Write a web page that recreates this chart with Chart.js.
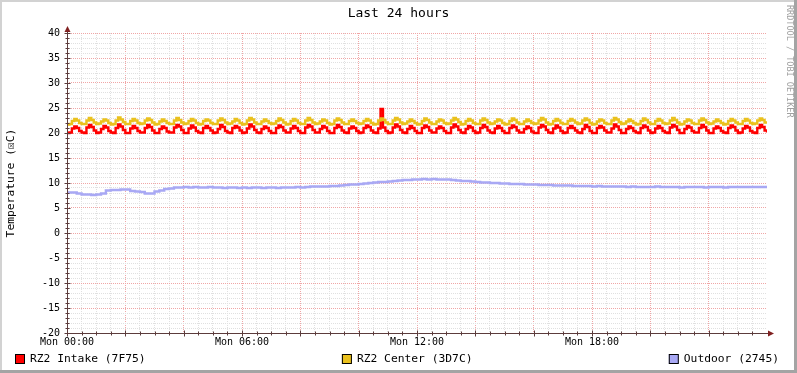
<!DOCTYPE html>
<html>
<head>
<meta charset="utf-8">
<title>Last 24 hours</title>
<script src="https://cdn.jsdelivr.net/npm/chart.js@4.4.1/dist/chart.umd.min.js"></script>
<style>
  html, body { margin: 0; padding: 0; background: #fff; }
  #wrap { width: 797px; height: 373px; }
</style>
</head>
<body>
<div id="wrap"><canvas id="rrdChart" width="797" height="373"></canvas></div>
<script>
// room sensors sampled every 5 minutes, outdoor every 10 minutes, Mon 00:00 .. Tue 00:00
const ROOM_STEP_HOURS = 5 / 60;
const OUTDOOR_STEP_HOURS = 10 / 60;

const intake = [
  20.0, 20.1, 20.9, 21.3, 21.0, 20.4,  20.1, 20.0, 21.1, 21.6, 21.2, 20.5,
  20.0, 20.1, 20.8, 21.4, 21.1, 20.4,  20.1, 20.0, 21.0, 21.7, 21.3, 20.6,
  20.0, 20.0, 20.9, 21.4, 21.0, 20.4,  20.1, 20.1, 21.0, 21.6, 21.2, 20.5,
  20.0, 20.0, 20.8, 21.3, 21.0, 20.3,  20.1, 20.1, 21.1, 21.6, 21.3, 20.6,
  20.0, 20.0, 20.9, 21.5, 21.1, 20.4,  20.1, 20.0, 21.0, 21.4, 21.0, 20.5,
  20.0, 20.1, 20.8, 21.6, 21.2, 20.4,  20.1, 20.0, 21.0, 21.4, 21.1, 20.5,
  20.0, 20.1, 20.9, 21.7, 21.3, 20.6,  20.1, 20.0, 20.8, 21.3, 21.0, 20.4,
  20.0, 20.0, 21.0, 21.5, 21.2, 20.5,  20.1, 20.1, 20.9, 21.4, 21.0, 20.4,
  20.0, 20.0, 21.1, 21.6, 21.3, 20.6,  20.1, 20.1, 20.8, 21.4, 21.1, 20.4,
  20.0, 20.0, 21.0, 21.6, 21.2, 20.5,  20.1, 20.0, 20.9, 21.3, 21.0, 20.4,
  20.0, 20.1, 21.0, 21.5, 21.2, 20.5,  20.1, 20.0, 20.9, 24.8, 21.1, 20.4,
  20.0, 20.1, 21.1, 21.7, 21.3, 20.6,  20.1, 20.0, 20.8, 21.4, 21.0, 20.4,
  20.0, 20.0, 21.0, 21.5, 21.2, 20.5,  20.1, 20.1, 20.9, 21.3, 21.0, 20.4,
  20.0, 20.0, 21.1, 21.7, 21.3, 20.6,  20.1, 20.0, 20.8, 21.4, 21.1, 20.4,
  20.0, 20.1, 21.0, 21.6, 21.2, 20.5,  20.1, 20.0, 20.9, 21.4, 21.0, 20.4,
  20.0, 20.0, 21.0, 21.5, 21.2, 20.5,  20.1, 20.1, 20.8, 21.3, 21.0, 20.3,
  20.0, 20.0, 21.1, 21.6, 21.3, 20.6,  20.1, 20.0, 20.9, 21.5, 21.1, 20.4,
  20.0, 20.1, 21.0, 21.4, 21.0, 20.5,  20.1, 20.0, 20.8, 21.6, 21.2, 20.4,
  20.0, 20.0, 21.0, 21.4, 21.1, 20.5,  20.1, 20.1, 20.9, 21.7, 21.3, 20.6,
  20.0, 20.0, 20.8, 21.3, 21.0, 20.4,  20.1, 20.0, 21.0, 21.5, 21.2, 20.5,
  20.0, 20.1, 20.9, 21.4, 21.0, 20.4,  20.1, 20.0, 21.1, 21.6, 21.3, 20.6,
  20.0, 20.0, 20.8, 21.4, 21.1, 20.4,  20.1, 20.1, 21.0, 21.6, 21.2, 20.5,
  20.0, 20.0, 20.9, 21.3, 21.0, 20.4,  20.1, 20.0, 21.0, 21.5, 21.2, 20.5,
  20.0, 20.1, 20.9, 21.4, 21.1, 20.4,  20.1, 20.0, 21.0, 21.6, 21.2, 20.5,
  20.1
];

const center = [
  21.7, 21.8, 22.4, 22.8, 22.5, 22.0,  21.8, 21.8, 22.5, 23.0, 22.6, 22.1,
  21.8, 21.9, 22.3, 22.7, 22.5, 22.0,  21.7, 21.8, 22.5, 23.1, 22.7, 22.2,
  21.8, 21.8, 22.4, 22.8, 22.5, 22.0,  21.8, 21.9, 22.5, 22.9, 22.6, 22.1,
  21.7, 21.8, 22.3, 22.7, 22.4, 22.0,  21.8, 21.8, 22.5, 23.0, 22.6, 22.1,
  21.8, 21.9, 22.4, 22.8, 22.5, 22.0,  21.7, 21.8, 22.4, 22.7, 22.5, 22.0,
  21.8, 21.8, 22.5, 22.9, 22.6, 22.1,  21.8, 21.9, 22.3, 22.8, 22.5, 22.0,
  21.7, 21.8, 22.5, 23.0, 22.7, 22.1,  21.8, 21.8, 22.3, 22.7, 22.4, 22.0,
  21.8, 21.9, 22.4, 22.9, 22.6, 22.1,  21.7, 21.8, 22.4, 22.8, 22.5, 22.0,
  21.8, 21.8, 22.5, 23.0, 22.6, 22.1,  21.8, 21.9, 22.3, 22.7, 22.5, 22.0,
  21.7, 21.8, 22.5, 22.9, 22.6, 22.1,  21.8, 21.8, 22.4, 22.7, 22.4, 22.0,
  21.8, 21.9, 22.4, 22.8, 22.5, 22.0,  21.7, 21.8, 22.5, 22.9, 22.6, 22.1,
  21.8, 21.8, 22.5, 23.0, 22.7, 22.1,  21.8, 21.9, 22.3, 22.7, 22.4, 22.0,
  21.7, 21.8, 22.4, 22.9, 22.6, 22.1,  21.8, 21.8, 22.3, 22.7, 22.5, 22.0,
  21.8, 21.9, 22.5, 23.0, 22.7, 22.2,  21.7, 21.8, 22.4, 22.8, 22.5, 22.0,
  21.8, 21.8, 22.5, 22.9, 22.6, 22.1,  21.8, 21.9, 22.3, 22.7, 22.5, 22.0,
  21.7, 21.8, 22.4, 22.9, 22.6, 22.1,  21.8, 21.8, 22.3, 22.7, 22.4, 22.0,
  21.8, 21.9, 22.5, 23.0, 22.7, 22.1,  21.7, 21.8, 22.4, 22.8, 22.5, 22.0,
  21.8, 21.8, 22.4, 22.8, 22.5, 22.1,  21.8, 21.9, 22.5, 22.9, 22.6, 22.0,
  21.7, 21.8, 22.3, 22.7, 22.5, 22.0,  21.8, 21.8, 22.5, 23.0, 22.7, 22.2,
  21.8, 21.9, 22.3, 22.7, 22.4, 22.0,  21.7, 21.8, 22.4, 22.9, 22.6, 22.1,
  21.8, 21.8, 22.4, 22.8, 22.5, 22.0,  21.8, 21.9, 22.5, 23.0, 22.6, 22.1,
  21.7, 21.8, 22.3, 22.7, 22.5, 22.0,  21.8, 21.8, 22.5, 22.9, 22.6, 22.1,
  21.8, 21.9, 22.3, 22.7, 22.4, 22.0,  21.7, 21.8, 22.4, 22.8, 22.5, 22.1,
  21.8, 21.8, 22.4, 22.8, 22.5, 22.0,  21.8, 21.9, 22.5, 22.9, 22.6, 22.1,
  21.9
];

const outdoor = [
  8.1, 8.1, 7.9, 7.7, 7.7, 7.6, 7.7, 7.9, 8.5, 8.6, 8.6, 8.7,
  8.7, 8.4, 8.3, 8.2, 7.9, 7.9, 8.3, 8.5, 8.8, 8.9, 9.1, 9.1,
  9.2, 9.1, 9.2, 9.1, 9.1, 9.2, 9.1, 9.1, 9.0, 9.1, 9.1, 9.0,
  9.1, 9.0, 9.1, 9.1, 9.0, 9.1, 9.1, 9.0, 9.1, 9.1, 9.1, 9.2,
  9.1, 9.2, 9.3, 9.3, 9.3, 9.3, 9.4, 9.4, 9.5, 9.6, 9.7, 9.7,
  9.8, 9.9, 10.0, 10.1, 10.2, 10.2, 10.3, 10.4, 10.5, 10.6, 10.6, 10.7,
  10.7, 10.8, 10.7, 10.8, 10.7, 10.7, 10.7, 10.6, 10.5, 10.4, 10.4, 10.3,
  10.2, 10.1, 10.1, 10.0, 10.0, 9.9, 9.9, 9.8, 9.8, 9.8, 9.7, 9.7,
  9.7, 9.6, 9.6, 9.6, 9.5, 9.5, 9.5, 9.5, 9.4, 9.4, 9.4, 9.4,
  9.3, 9.4, 9.3, 9.3, 9.3, 9.3, 9.3, 9.2, 9.3, 9.2, 9.2, 9.2,
  9.2, 9.3, 9.2, 9.2, 9.2, 9.2, 9.1, 9.2, 9.2, 9.2, 9.2, 9.1,
  9.2, 9.2, 9.2, 9.1, 9.2, 9.2, 9.2, 9.2, 9.2, 9.2, 9.2, 9.2,
  9.2
];

const seriesNames = ["RZ2 Intake (7F75)", "RZ2 Center (3D7C)", "Outdoor (2745)"];
const seriesColors = ["#ff0000", "#eac11d", "#a8a8f4"];

// x tick labels, one every 6 hours
const hourLabels = { 0: "Mon 00:00", 6: "Mon 06:00", 12: "Mon 12:00", 18: "Mon 18:00" };

const titleText = "Last 24 hours";
const yTitle = "Temperature (\u2612C)";
const watermark = "RRDTOOL / TOBI OETIKER";

const MONO = "'DejaVu Sans Mono', monospace";
const MINOR_GRID = "#e0e0e0";
const MAJOR_GRID = "#f0a6a6";
const AXIS_COLOR = "#5c3c3c";
const ARROW_COLOR = "#802020";

function toPoints(values, step) {
  return values.map((v, i) => ({ x: i * step, y: v }));
}

// background, shade border, axes with arrows, title, watermark and legend
const rrdDecor = {
  id: "rrdDecor",
  beforeDraw(chart) {
    const ctx = chart.ctx;
    const w = chart.width, h = chart.height;
    ctx.save();
    ctx.fillStyle = "#ffffff";
    ctx.fillRect(0, 0, w, h);
    ctx.fillStyle = "#d2d2d2";
    ctx.fillRect(0, 0, w, 2);
    ctx.fillRect(0, 0, 2, h);
    ctx.fillStyle = "#a4a4a4";
    ctx.fillRect(0, h - 3, w, 3);
    ctx.fillRect(w - 3, 0, 3, h);
    ctx.restore();
  },
  afterDraw(chart) {
    const ctx = chart.ctx;
    const area = chart.chartArea;
    const xs = chart.scales.x, ys = chart.scales.y;
    const left = Math.round(area.left) + 0.5;
    const bottom = Math.round(area.bottom) + 0.5;
    ctx.save();

    // tick stubs on the axes
    ctx.strokeStyle = AXIS_COLOR;
    ctx.lineWidth = 1;
    ctx.beginPath();
    ys.ticks.forEach(t => {
      const py = Math.round(ys.getPixelForValue(t.value)) + 0.5;
      const len = t.value % 5 === 0 ? 3 : 2;
      ctx.moveTo(left - len, py);
      ctx.lineTo(left + len, py);
    });
    xs.ticks.forEach(t => {
      if (t.value >= 24) return;
      const px = Math.round(xs.getPixelForValue(t.value)) + 0.5;
      const len = t.value % 2 === 0 ? 3 : 2;
      ctx.moveTo(px, bottom - len);
      ctx.lineTo(px, bottom + len);
    });
    ctx.stroke();

    // axes
    ctx.beginPath();
    ctx.moveTo(left, bottom);
    ctx.lineTo(Math.round(area.right) + 2, bottom);
    ctx.moveTo(left, bottom);
    ctx.lineTo(left, Math.round(area.top) - 2);
    ctx.stroke();

    // arrows
    ctx.fillStyle = ARROW_COLOR;
    const ax = Math.round(area.right) + 7;
    ctx.beginPath();
    ctx.moveTo(ax, bottom);
    ctx.lineTo(ax - 6, bottom - 3);
    ctx.lineTo(ax - 6, bottom + 3);
    ctx.closePath();
    ctx.fill();
    const ay = Math.round(area.top) - 7;
    ctx.beginPath();
    ctx.moveTo(left, ay);
    ctx.lineTo(left - 3, ay + 6);
    ctx.lineTo(left + 3, ay + 6);
    ctx.closePath();
    ctx.fill();

    // title
    ctx.fillStyle = "#000";
    ctx.font = "13px " + MONO;
    ctx.textAlign = "center";
    ctx.textBaseline = "middle";
    ctx.fillText(titleText, chart.width / 2, 14);

    // watermark, vertical on the right edge
    ctx.save();
    ctx.translate(789, 5);
    ctx.rotate(Math.PI / 2);
    ctx.fillStyle = "#a0a0a0";
    ctx.font = "8.5px " + MONO;
    ctx.textAlign = "left";
    ctx.fillText(watermark, 0, 0);
    ctx.restore();

    // legend, justified across the width
    ctx.font = "11.3px " + MONO;
    ctx.textAlign = "left";
    ctx.textBaseline = "middle";
    const box = 10, gap = 5, marginL = 15, marginR = 18;
    const widths = seriesNames.map(n => box + gap + ctx.measureText(n).width);
    const total = widths.reduce((a, b) => a + b, 0);
    const space = (chart.width - marginL - marginR - total) / (seriesNames.length - 1);
    let lx = marginL;
    const ly = 359;
    seriesNames.forEach((name, i) => {
      ctx.fillStyle = seriesColors[i];
      ctx.fillRect(lx, ly - 5, box, box);
      ctx.strokeStyle = "#000";
      ctx.lineWidth = 1;
      ctx.strokeRect(lx + 0.5, ly - 4.5, box - 1, box - 1);
      ctx.fillStyle = "#000";
      ctx.fillText(name, lx + box + gap, ly);
      lx += widths[i] + space;
    });
    ctx.restore();
  }
};

const lineStyle = {
  pointRadius: 0,
  borderWidth: 2.4,
  stepped: "before",
  fill: false,
  tension: 0,
  borderCapStyle: "butt",
  borderJoinStyle: "miter"
};

new Chart(document.getElementById("rrdChart"), {
  type: "line",
  data: {
    datasets: [
      { label: seriesNames[0], data: toPoints(intake, ROOM_STEP_HOURS), borderColor: seriesColors[0], order: 2, ...lineStyle },
      { label: seriesNames[1], data: toPoints(center, ROOM_STEP_HOURS), borderColor: seriesColors[1], order: 1, ...lineStyle },
      { label: seriesNames[2], data: toPoints(outdoor, OUTDOOR_STEP_HOURS), borderColor: seriesColors[2], order: 0, ...lineStyle }
    ]
  },
  options: {
    responsive: false,
    animation: false,
    devicePixelRatio: 1,
    layout: { padding: { top: 33, right: 30, left: 0, bottom: 0 } },
    plugins: {
      legend: { display: false },
      title: { display: false },
      tooltip: { enabled: false }
    },
    scales: {
      x: {
        type: "linear",
        min: 0,
        max: 24,
        afterFit(scale) { scale.height = 40; },
        border: { display: false, dash: [1, 1] },
        grid: {
          drawTicks: false,
          color(c) {
            const v = c.tick.value;
            if (v <= 0 || v >= 24) return "rgba(0,0,0,0)";
            return v % 2 === 0 ? MAJOR_GRID : MINOR_GRID;
          }
        },
        ticks: {
          stepSize: 0.5,
          maxTicksLimit: 100,
          autoSkip: false,
          maxRotation: 0,
          padding: 3,
          color: "#000",
          font: { family: MONO, size: 10 },
          callback: v => hourLabels[v] || ""
        }
      },
      y: {
        min: -20,
        max: 40,
        afterFit(scale) { scale.width = 67; },
        border: { display: false, dash: [1, 1] },
        grid: {
          drawTicks: false,
          color(c) {
            const v = c.tick.value;
            if (v <= -20) return "rgba(0,0,0,0)";
            return v % 5 === 0 ? MAJOR_GRID : MINOR_GRID;
          }
        },
        ticks: {
          stepSize: 1,
          maxTicksLimit: 100,
          autoSkip: false,
          padding: 7,
          color: "#000",
          font: { family: MONO, size: 10 },
          callback: v => (v % 5 === 0 ? String(v) : "")
        },
        title: {
          display: true,
          text: yTitle,
          color: "#000",
          font: { family: MONO, size: 11.3, lineHeight: 1.2 },
          padding: { top: 4, bottom: 0 }
        }
      }
    }
  },
  plugins: [rrdDecor]
});
</script>
</body>
</html>
